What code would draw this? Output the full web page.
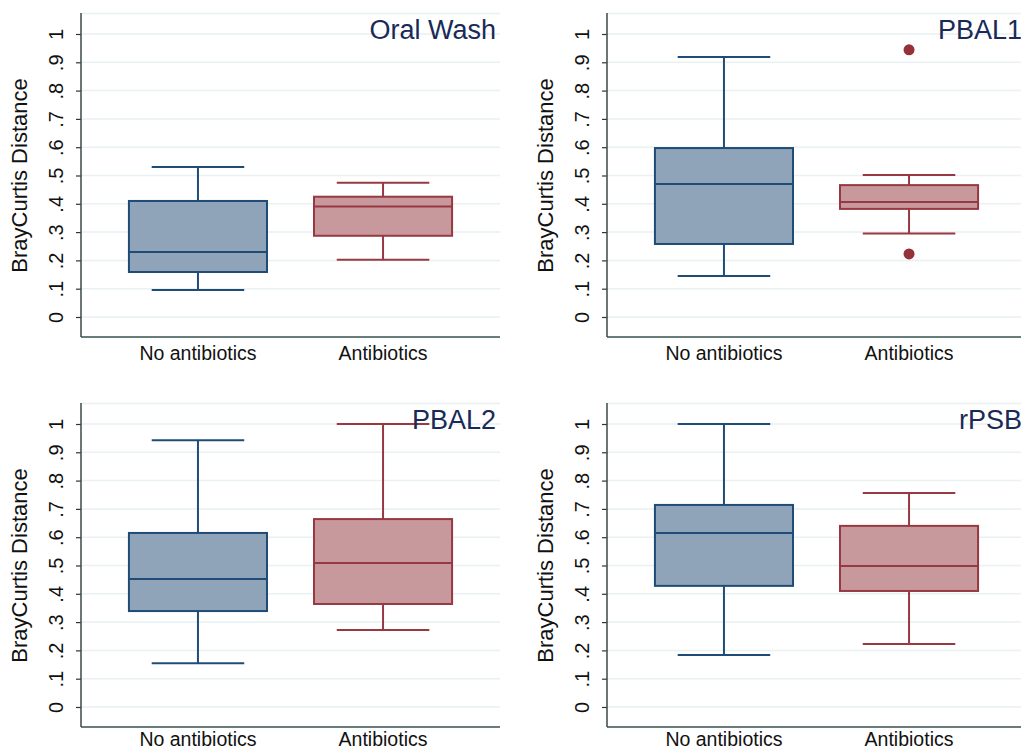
<!DOCTYPE html>
<html>
<head>
<meta charset="utf-8">
<script src="https://cdn.jsdelivr.net/npm/d3@7"></script>
<style>
  body { margin: 0; background: #fff; }
  svg { display: block; font-family: Helvetica, Arial, 'Liberation Sans', sans-serif; }
</style>
</head>
<body>
<div id="chart"></div>
<script>
var panels = ['Oral Wash', 'PBAL1', 'PBAL2', 'rPSB']
var groups = ['No antibiotics', 'Antibiotics']
var yTicks = [0, 0.1, 0.2, 0.3, 0.4, 0.5, 0.6, 0.7, 0.8, 0.9, 1]
var yTickLabels = ['0', '.1', '.2', '.3', '.4', '.5', '.6', '.7', '.8', '.9', '1']

// per panel: [No antibiotics, Antibiotics]
var whiskerLow = [[0.095, 0.202], [0.145, 0.295], [0.155, 0.272], [0.184, 0.223]]
var q1 = [[0.159, 0.287], [0.258, 0.382], [0.339, 0.364], [0.428, 0.41]]
var median = [[0.23, 0.39], [0.47, 0.406], [0.452, 0.509], [0.615, 0.498]]
var q3 = [[0.41, 0.425], [0.597, 0.466], [0.615, 0.664], [0.714, 0.64]]
var whiskerHigh = [[0.53, 0.474], [0.919, 0.502], [0.943, 1.0], [1.0, 0.756]]
var outliers = [[[], []], [[], [0.944, 0.223]], [[], []], [[], []]]

var fills = ['#8fa4b8', '#c8999c']
var strokes = ['#1f4c77', '#973843']

var width = 419
var height = 324
var origins = [[81, 13], [607, 13], [81, 403], [607, 403]]

var svg = d3
  .select('#chart')
  .append('svg')
  .attr('width', 1021)
  .attr('height', 752)

var xPositionScale = d3
  .scalePoint()
  .domain(groups)
  .range([0, width])
  .padding(0.632)

var yPositionScale = d3
  .scaleLinear()
  .domain([-0.0707, 1.0742])
  .range([height, 0])

var step = xPositionScale.step()
var boxWidth = step * 0.746
var capWidth = step * 0.5

panels.forEach(function(name, p) {
  var g = svg
    .append('g')
    .attr('transform', 'translate(' + origins[p][0] + ',' + origins[p][1] + ')')

  // gridlines
  g.selectAll('.grid')
    .data(yTicks)
    .enter()
    .append('line')
    .attr('x1', 0)
    .attr('x2', width)
    .attr('y1', d => yPositionScale(d))
    .attr('y2', d => yPositionScale(d))
    .attr('stroke', '#e9f1f3')
    .attr('stroke-width', 1.5)

  // top border of plot region
  g.append('line')
    .attr('x1', 0)
    .attr('x2', width)
    .attr('y1', 0.5)
    .attr('y2', 0.5)
    .attr('stroke', '#e9f1f3')
    .attr('stroke-width', 1.5)

  var boxes = groups.map(function(grp, i) {
    return {
      group: grp,
      i: i,
      lo: whiskerLow[p][i],
      q1: q1[p][i],
      med: median[p][i],
      q3: q3[p][i],
      hi: whiskerHigh[p][i],
      out: outliers[p][i]
    }
  })

  boxes.forEach(function(b) {
    var cx = xPositionScale(b.group)
    var col = strokes[b.i]
    // whiskers
    g.append('line')
      .attr('x1', cx).attr('x2', cx)
      .attr('y1', yPositionScale(b.hi)).attr('y2', yPositionScale(b.q3))
      .attr('stroke', col).attr('stroke-width', 2)
    g.append('line')
      .attr('x1', cx).attr('x2', cx)
      .attr('y1', yPositionScale(b.q1)).attr('y2', yPositionScale(b.lo))
      .attr('stroke', col).attr('stroke-width', 2)
    // caps
    ;[b.hi, b.lo].forEach(function(v) {
      g.append('line')
        .attr('x1', cx - capWidth / 2).attr('x2', cx + capWidth / 2)
        .attr('y1', yPositionScale(v)).attr('y2', yPositionScale(v))
        .attr('stroke', col).attr('stroke-width', 2)
    })
    // box
    g.append('rect')
      .attr('x', cx - boxWidth / 2)
      .attr('y', yPositionScale(b.q3))
      .attr('width', boxWidth)
      .attr('height', yPositionScale(b.q1) - yPositionScale(b.q3))
      .attr('fill', fills[b.i])
      .attr('stroke', col)
      .attr('stroke-width', 2)
    // median
    g.append('line')
      .attr('x1', cx - boxWidth / 2).attr('x2', cx + boxWidth / 2)
      .attr('y1', yPositionScale(b.med)).attr('y2', yPositionScale(b.med))
      .attr('stroke', col).attr('stroke-width', 2)
    // outside values
    g.selectAll('.out' + b.i)
      .data(b.out)
      .enter()
      .append('circle')
      .attr('cx', cx)
      .attr('cy', d => yPositionScale(d))
      .attr('r', 5.5)
      .attr('fill', '#943139')
  })

  // y axis
  var yAxis = d3
    .axisLeft(yPositionScale)
    .tickValues(yTicks)
    .tickFormat((d, i) => yTickLabels[i])
    .tickSize(5)
    .tickPadding(0)
  var ya = g.append('g').attr('class', 'axis y-axis').call(yAxis)
  ya.select('.domain').remove()
  ya.selectAll('.tick line').attr('stroke', '#333').attr('stroke-width', 1.2)
  ya.selectAll('.tick text')
    .attr('x', null)
    .attr('dy', null)
    .attr('transform', 'translate(-18,0) rotate(-90)')
    .attr('text-anchor', 'middle')
    .attr('font-size', 20)
    .attr('fill', '#111')
  g.append('line')
    .attr('x1', 0).attr('x2', 0)
    .attr('y1', 0).attr('y2', height)
    .attr('stroke', '#3a4a4a')
    .attr('stroke-width', 1.5)

  // x axis
  g.append('line')
    .attr('x1', 0).attr('x2', width)
    .attr('y1', height).attr('y2', height)
    .attr('stroke', '#35504f')
    .attr('stroke-width', 1.5)
  // bottom row sits at the page edge, keep its labels just inside
  var labelOffset = p < 2 ? 23 : 19
  g.selectAll('.xlab')
    .data(groups)
    .enter()
    .append('text')
    .text(d => d)
    .attr('x', d => xPositionScale(d))
    .attr('y', height + labelOffset)
    .attr('text-anchor', 'middle')
    .attr('font-size', 19.5)
    .attr('fill', '#111')

  // y title
  g.append('text')
    .text('BrayCurtis Distance')
    .attr('transform', 'translate(-54,' + (yPositionScale(0.5)) + ') rotate(-90)')
    .attr('text-anchor', 'middle')
    .attr('font-size', 22)
    .attr('fill', '#111')

  // panel title
  g.append('text')
    .text(name)
    .attr('x', width - 4)
    .attr('y', 26)
    .attr('text-anchor', 'end')
    .attr('font-size', 27)
    .attr('fill', '#1a2a57')
})
</script>
</body>
</html>
